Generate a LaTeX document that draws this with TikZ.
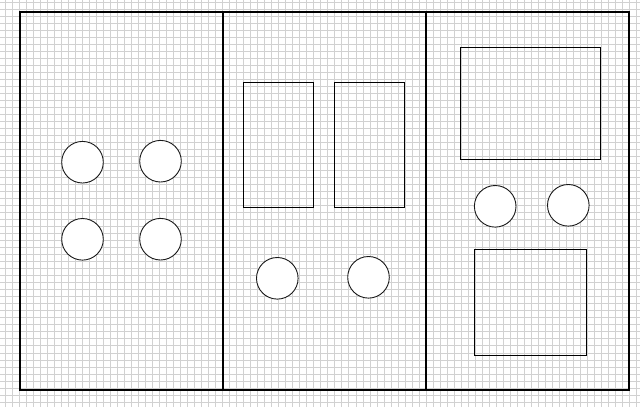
\documentclass[tikz,border=0pt]{standalone}
\begin{document}
\begin{tikzpicture}[x=1pt,y=-1pt,
  gridline/.style={draw=black!18,line width=1pt},
  panel/.style={draw=black,line width=2pt,inner sep=0pt,rectangle},
  box/.style={draw=black,line width=1pt,inner sep=0pt,rectangle},
  disc/.style={draw=black!90,fill=white,line width=0.9pt,inner sep=0pt,circle,minimum size=41.6pt}]
\useasboundingbox (0,0) rectangle (640,407);
\fill[white] (0,0) rectangle (640,407);
% grid
\foreach \i in {0,...,91} \draw[gridline] ({5+7.02*\i},0) -- ({5+7.02*\i},407);
\foreach \j in {0,...,58} \draw[gridline] (0,{2+7.02*\j}) -- (640,{2+7.02*\j});
% panels
\node[panel,minimum width=203pt,minimum height=378pt] (p1) at (121.5,201) {};
\node[panel,minimum width=203pt,minimum height=378pt] (p2) at (324.5,201) {};
\node[panel,minimum width=203pt,minimum height=378pt] (p3) at (527.5,201) {};
% panel 1 circles
\node[disc] (c1) at (82.5,162.2) {};
\node[disc] (c2) at (160.5,161.2) {};
\node[disc] (c3) at (82.5,239.3) {};
\node[disc] (c4) at (160.5,239.2) {};
% panel 2
\node[box,minimum width=70pt,minimum height=125pt] (r1) at (278.3,144.5) {};
\node[box,minimum width=69.6pt,minimum height=125pt] (r2) at (369.5,144.5) {};
\node[disc] (c5) at (277.3,278.3) {};
\node[disc] (c6) at (368.5,277.3) {};
% panel 3
\node[box,minimum width=140.4pt,minimum height=111.7pt] (r3) at (530.5,103.2) {};
\node[disc] (c7) at (495.2,206.3) {};
\node[disc] (c8) at (568.3,205.3) {};
\node[box,minimum width=112.4pt,minimum height=106pt] (r4) at (530.5,302.3) {};
\end{tikzpicture}
\end{document}
